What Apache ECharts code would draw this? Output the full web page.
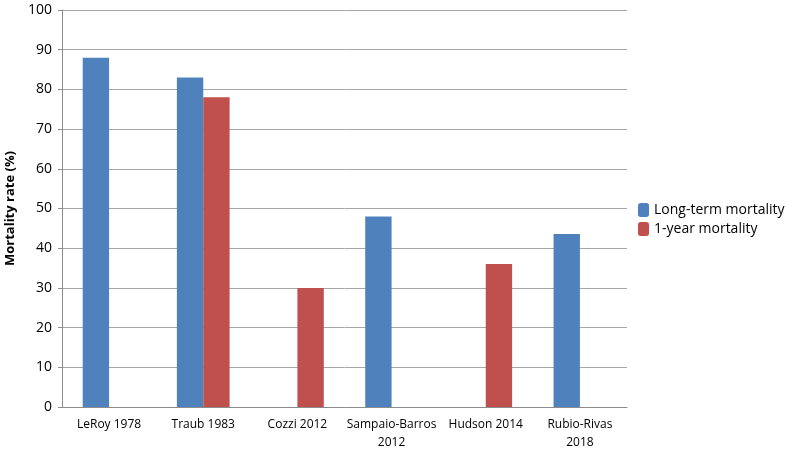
<!DOCTYPE html>
<html>
<head>
<meta charset="utf-8">
<script src="https://cdn.jsdelivr.net/npm/echarts@6/dist/echarts.min.js"></script>
<style>
  html, body { margin: 0; padding: 0; background: #fff; }
  #chart { width: 786px; height: 451px; }
</style>
</head>
<body>
<div id="chart"></div>
<script>
const categories = ["LeRoy 1978", "Traub 1983", "Cozzi 2012", "Sampaio-Barros\n2012", "Hudson 2014", "Rubio-Rivas\n2018"];
const longTerm = [88, 83, null, 48, null, 43.6];
const oneYear = [null, 78, 30, null, 36, null];
const yTicks = { min: 0, max: 100, interval: 10 };

const chart = echarts.init(document.getElementById("chart"));
chart.setOption({
  animation: false,
  textStyle: { fontFamily: "Open Sans" },
  grid: { left: 62, right: 159, top: 10, bottom: 44, outerBoundsMode: "none", containLabel: false },
  legend: {
    orient: "vertical",
    left: 633,
    top: 198,
    itemWidth: 11,
    itemHeight: 14,
    itemGap: 5,
    textStyle: { fontSize: 14, color: "#000" },
    data: ["Long-term mortality", "1-year mortality"]
  },
  xAxis: {
    type: "category",
    data: categories,
    axisLine: { lineStyle: { color: "#8c8c8c" } },
    axisTick: { show: false },
    axisLabel: { color: "#000", fontSize: 12, margin: 9, lineHeight: 18, interval: 0 }
  },
  yAxis: {
    type: "value",
    min: yTicks.min,
    max: yTicks.max,
    interval: yTicks.interval,
    name: "Mortality rate (%)",
    nameLocation: "middle",
    nameGap: 42,
    nameTextStyle: { fontSize: 13, fontWeight: "bold", color: "#000" },
    axisLine: { show: true, lineStyle: { color: "#8c8c8c" } },
    axisTick: { show: true, length: 4, lineStyle: { color: "#8c8c8c" } },
    axisLabel: { color: "#000", fontSize: 14, margin: 10 },
    splitLine: { lineStyle: { color: "#a6a6a6" } }
  },
  series: [
    {
      name: "Long-term mortality",
      type: "bar",
      data: longTerm,
      itemStyle: { color: "#4F81BD" },
      barGap: "0%",
      barCategoryGap: "44%"
    },
    {
      name: "1-year mortality",
      type: "bar",
      data: oneYear,
      itemStyle: { color: "#C0504D" }
    }
  ]
});
</script>
</body>
</html>
